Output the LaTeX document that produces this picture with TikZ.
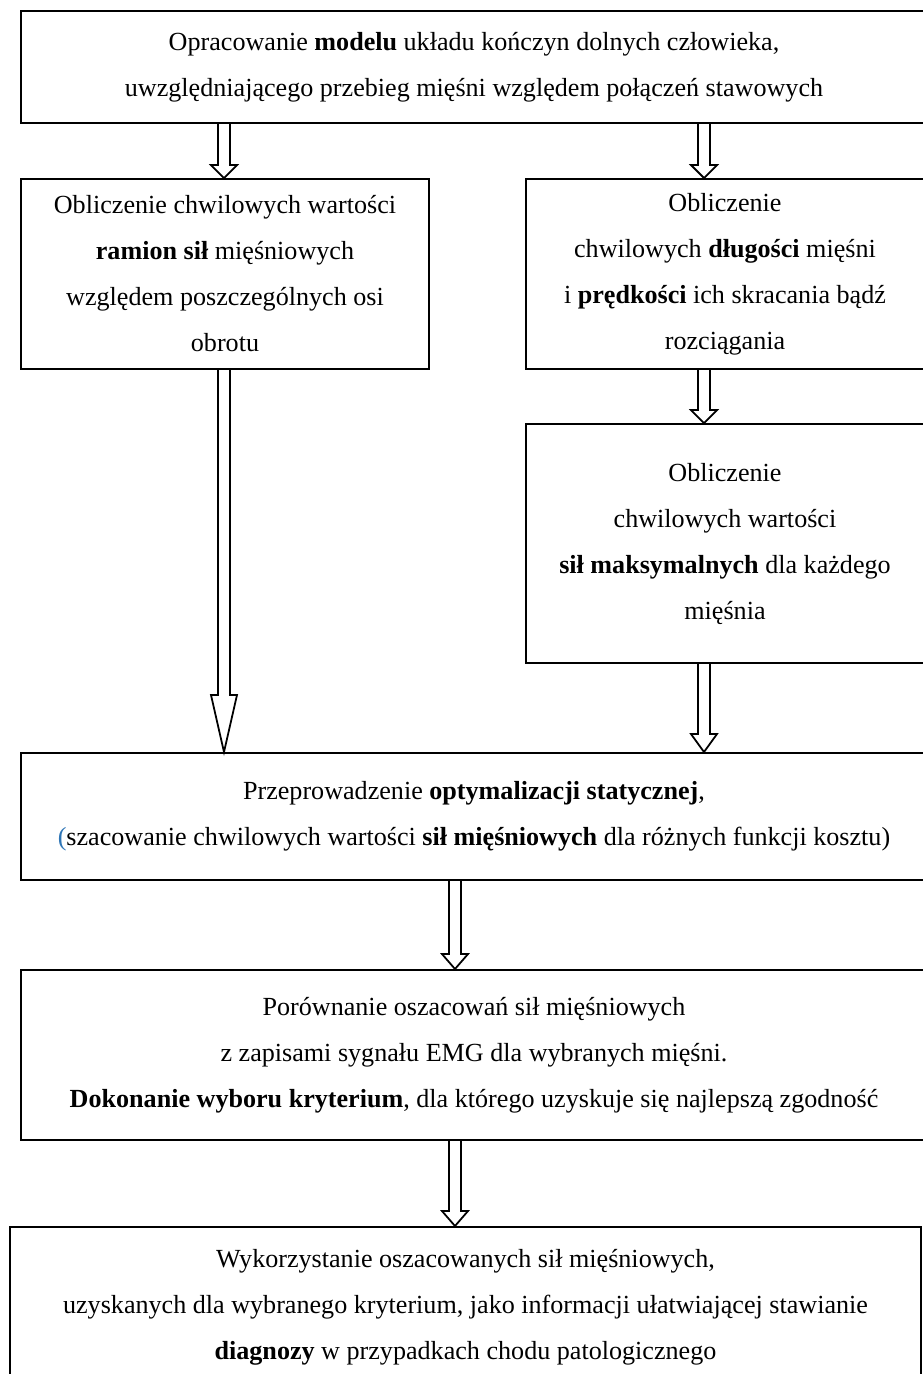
\documentclass[tikz,border=0pt]{standalone}
\usepackage{fontspec}
\setmainfont{Liberation Serif}
\usetikzlibrary{calc}
\definecolor{niebieski}{RGB}{46,117,182}

\begin{document}
\begin{tikzpicture}[
		x=0.45pt, y=-0.45pt,
		blok/.style={draw=black, line width=0.9pt, anchor=north west,
			inner sep=0pt, align=center,
			font=\fontsize{11.75}{20.7}\selectfont},
		strzalka/.style={draw=black, fill=white, line width=0.8pt,
			line join=miter}]
	
	\def\px{0.45pt}
	\useasboundingbox (0,0) rectangle (922,1374);
	
	%% strzalka blokowa: #1 -> #2, os w x=#3, dlugosc grotu #4
	\def\strz#1#2#3#4{%
		\coordinate (os) at (#3,0);
		\draw[strzalka] ($(os |- #1.south)+(-6,0)$)
			-- ($(os |- #2.north)+(-6,-#4)$) -- ($(os |- #2.north)+(-13,-#4)$)
			-- (os |- #2.north)
			-- ($(os |- #2.north)+(13,-#4)$) -- ($(os |- #2.north)+(6,-#4)$)
			-- ($(os |- #1.south)+(6,0)$);}
	
	%% bloki
	\node[blok, minimum width=906*\px, minimum height=112*\px] (model) at (20,10)
		{Opracowanie \textbf{modelu} układu kończyn dolnych człowieka,\\
		uwzględniającego przebieg mięśni względem połączeń stawowych};
	\node[blok, minimum width=408*\px, minimum height=190*\px] (ramiona) at (20,178)
		{Obliczenie chwilowych wartości\\
		\textbf{ramion sił} mięśniowych\\
		względem poszczególnych osi\\
		obrotu};
	\node[blok, minimum width=398*\px, minimum height=190*\px] (dlugosci) at (525,178)
		{Obliczenie\\
		chwilowych \textbf{długości} mięśni\\
		i \textbf{prędkości} ich skracania bądź\\
		rozciągania};
	\node[blok, minimum width=398*\px, minimum height=239*\px] (silymax) at (525,423)
		{Obliczenie\\
		chwilowych wartości\\
		\textbf{sił maksymalnych} dla każdego\\
		mięśnia};
	\node[blok, minimum width=906*\px, minimum height=127*\px] (optym) at (20,752)
		{Przeprowadzenie \textbf{optymalizacji statycznej},\\
		{\color{niebieski}(}szacowanie chwilowych wartości \textbf{sił mięśniowych} dla różnych funkcji kosztu)};
	\node[blok, minimum width=906*\px, minimum height=170*\px] (emg) at (20,969)
		{Porównanie oszacowań sił mięśniowych\\
		z zapisami sygnału EMG dla wybranych mięśni.\\
		\textbf{Dokonanie wyboru kryterium}, dla którego uzyskuje się najlepszą zgodność};
	\node[blok, minimum width=911*\px, minimum height=160*\px] (diagnoza) at (9,1226)
		{Wykorzystanie oszacowanych sił mięśniowych,\\
		uzyskanych dla wybranego kryterium, jako informacji ułatwiającej stawianie\\
		\textbf{diagnozy} w przypadkach chodu patologicznego};
	
	%% strzalki
	\strz{model}{ramiona}{224}{13}
	\strz{model}{dlugosci}{704}{13}
	\strz{dlugosci}{silymax}{704}{13}
	\strz{ramiona}{optym}{224}{57}
	\strz{silymax}{optym}{704}{18}
	\strz{optym}{emg}{455}{15}
	\strz{emg}{diagnoza}{455}{15}
	
\end{tikzpicture}
\end{document}
